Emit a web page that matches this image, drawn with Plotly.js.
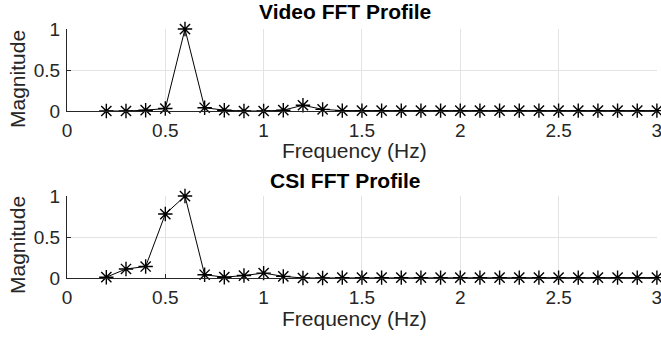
<!DOCTYPE html>
<html><head><meta charset="utf-8">
<script src="https://cdn.plot.ly/plotly-3.0.1.min.js"></script>
<style>html,body{margin:0;padding:0;background:#fff}#chart{width:661px;height:339px}</style>
</head><body><div id="chart"></div>
<script>
const freq = [0.2,0.3,0.4,0.5,0.6,0.7,0.8,0.9,1.0,1.1,1.2,1.3,1.4,1.5,1.6,1.7,1.8,1.9,2.0,2.1,2.2,2.3,2.4,2.5,2.6,2.7,2.8,2.9,3.0];
const videoMag = [0.0,0.0,0.01,0.03,1.0,0.04,0.01,0.0,0.0,0.01,0.07,0.02,0.005,0.005,0.005,0.005,0.005,0.005,0.005,0.005,0.005,0.005,0.005,0.005,0.005,0.005,0.005,0.005,0.005];
const csiMag = [0.01,0.11,0.14,0.78,1.0,0.04,0.01,0.03,0.06,0.02,0.0,0.0,0.005,0.005,0.005,0.005,0.005,0.005,0.005,0.005,0.005,0.005,0.005,0.005,0.005,0.005,0.005,0.005,0.005];
const xTicks = [0,0.5,1,1.5,2,2.5,3];
const xTickText = ['0','0.5','1','1.5','2','2.5','3'];
const yTicks = [0,0.5,1];
const yTickText = ['0','0.5','1'];
const titles = ['Video FFT Profile','CSI FFT Profile'];
const xLabel = 'Frequency (Hz)';
const yLabel = 'Magnitude';

const font = 'Liberation Sans, Arial, Helvetica, sans-serif';
const ink = '#262626';
function trace(y, xa, ya){
  return {x: freq, y: y, xaxis: xa, yaxis: ya, type:'scatter', mode:'lines+markers',
    line:{color:'#000', width:1},
    marker:{symbol:'asterisk-open', size:12, color:'#000', line:{color:'#000', width:1.4}},
    cliponaxis:false, showlegend:false, hoverinfo:'skip'};
}
function xax(anchor){
  return {anchor: anchor, domain:[67/661, 657/661], range:[0,3.0005], tickvals:xTicks, ticktext:xTickText,
    showgrid:true, gridcolor:'#e3e3e3', gridwidth:1, zeroline:false, showline:true, linecolor:ink, linewidth:1,
    ticks:'inside', ticklen:4, tickcolor:ink, ticklabeloverflow:'allow', ticklabelstandoff:2,
    tickfont:{family:font, size:19, color:ink}};
}
function yax(anchor, dom){
  return {anchor: anchor, domain: dom, range:[0,1.0005], tickvals:yTicks, ticktext:yTickText,
    showgrid:true, gridcolor:'#e3e3e3', gridwidth:1, zeroline:false, showline:true, linecolor:ink, linewidth:1,
    ticks:'inside', ticklen:4, tickcolor:ink, ticklabelstandoff:2,
    tickfont:{family:font, size:19, color:ink}};
}
function ann(text, x, y, rot, color){
  return {text:text, xref:'paper', yref:'paper', x:x/661, y:1-y/339, xanchor:'center', yanchor:'middle',
    showarrow:false, textangle:rot, font:{family:font, size:21, color:color}};
}
const layout = {
  width:661, height:339, margin:{l:0,r:0,t:0,b:0}, paper_bgcolor:'#fff', plot_bgcolor:'#fff',
  xaxis: xax('y'), yaxis: yax('x', [1-111/339, 1-29/339]),
  xaxis2: xax('y2'), yaxis2: yax('x2', [1-278/339, 1-196/339]),
  annotations: [
    ann('<b>'+titles[0]+'</b>', 345, 11.5, 0, '#000'),
    ann('<b>'+titles[1]+'</b>', 345, 180.5, 0, '#000'),
    ann(xLabel, 354, 151, 0, ink),
    ann(xLabel, 354, 318, 0, ink),
    ann(yLabel, 17, 79, -90, ink),
    ann(yLabel, 17, 245, -90, ink)
  ]
};
Plotly.newPlot('chart', [trace(videoMag,'x','y'), trace(csiMag,'x2','y2')], layout, {staticPlot:true, displayModeBar:false});
</script></body></html>
